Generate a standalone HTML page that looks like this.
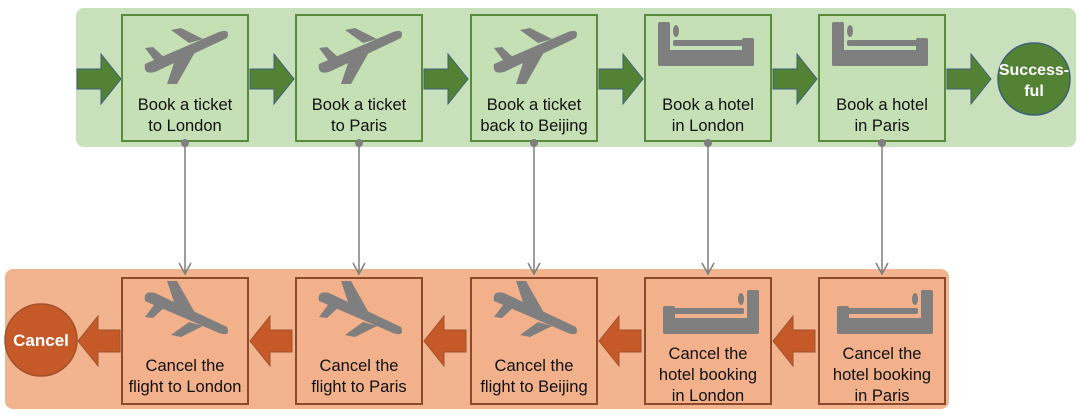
<!DOCTYPE html>
<html><head><meta charset="utf-8"><style>
body{margin:0;background:#fff;width:1080px;height:413px;overflow:hidden}
svg{display:block}
text{font-family:"Liberation Sans",sans-serif}
</style></head><body>
<svg id="s" width="1080" height="413" xmlns="http://www.w3.org/2000/svg">
<defs>
<g id="plane"><path d="M-40,14 L34,-18 Q46,-22 42,-12 L-30,22 Q-42,25 -40,14Z" fill="#7f7f7f"/><path d="M-8,4 L14,-5 L-8,34 L-18,34Z" fill="#7f7f7f"/><path d="M4,-7 L-14,-20 L-4,-22 L18,-11Z" fill="#7f7f7f"/><path d="M-28,14 L-40,-2 L-32,-3 L-18,10Z" fill="#7f7f7f"/></g>
<g id="bed"><rect x="-51" y="-22" width="12" height="44" rx="2" fill="#7f7f7f"/><rect x="-51" y="6" width="96" height="16" rx="2" fill="#7f7f7f"/><rect x="-36" y="-4" width="72" height="6" rx="2" fill="#7f7f7f"/><rect x="33" y="-6" width="12" height="28" rx="2" fill="#7f7f7f"/><ellipse cx="-33" cy="-13" rx="3" ry="6" fill="#7f7f7f"/></g>
</defs>
<rect x="76" y="8" width="1000" height="139" rx="8" fill="#c8e0bb"/>
<rect x="5" y="269" width="944" height="140" rx="8" fill="#f2b38f"/>
<circle cx="1034" cy="79" r="36" fill="#548235" stroke="#3f6079" stroke-width="1.5"/>
<text x="1034" y="75" text-anchor="middle" font-size="16" font-weight="bold" fill="#fff">Success-</text>
<text x="1034" y="96" text-anchor="middle" font-size="16" font-weight="bold" fill="#fff">ful</text>
<circle cx="41" cy="340" r="36" fill="#c55a28" stroke="#a0522d" stroke-width="1.5"/>
<text x="41" y="346" text-anchor="middle" font-size="17" font-weight="bold" fill="#fff">Cancel</text>
<g id="g"></g>
</svg>
<script>
const centers=[185,359,534,708,882];
const topLabels=[["Book a ticket","to London"],["Book a ticket","to Paris"],["Book a ticket","back to Beijing"],["Book a hotel","in London"],["Book a hotel","in Paris"]];
const botLabels=[["Cancel the","flight to London"],["Cancel the","flight to Paris"],["Cancel the","flight to Beijing"],["Cancel the","hotel booking","in London"],["Cancel the","hotel booking","in Paris"]];
const icons=["plane","plane","plane","bed","bed"];
const NS="http://www.w3.org/2000/svg",g=document.getElementById('g');
function mk(t,a,p){const e=document.createElementNS(NS,t);for(const k in a)e.setAttribute(k,a[k]);(p||g).appendChild(e);return e;}
function txt(x,y,s){const e=mk('text',{x:x,y:y,'text-anchor':'middle','font-size':16.5,fill:'#111'});e.textContent=s;return e;}
const gx=[77,250,424,599,773,947];
gx.forEach((x,i)=>{const a=mk('path',{d:`M${x},69 h24 v-15 l20,25 l-20,25 v-15 h-24Z`,fill:'#548235',stroke:'#3f6079','stroke-width':1});

});
const ox=[78,250,424,599,773];
ox.forEach((x,i)=>{const a=mk('path',{d:`M${x+42},330 h-22 v-14 l-20,25 l20,25 v-14 h22Z`,fill:'#c55a28',stroke:'#a0522d','stroke-width':1});

});
centers.forEach((c,i)=>{
 const b=mk('rect',{x:c-63,y:15,width:126,height:126,fill:'#c5e0b4',stroke:'#5b8a3c','stroke-width':2});
 
 
 const b2=mk('rect',{x:c-63,y:278,width:126,height:126,fill:'#f2b08b',stroke:'#8b4a2b','stroke-width':2});
 
 
 if(icons[i]=="plane"){mk('use',{href:'#plane',transform:`translate(${c},50)`});mk('use',{href:'#plane',transform:`translate(${c},315) scale(1,-1)`});}
 else{mk('use',{href:'#bed',transform:`translate(${c+1},44)`});mk('use',{href:'#bed',transform:`translate(${c},312) scale(-1,1)`});}
 topLabels[i].forEach((s,j)=>txt(c,110+j*21,s));
 const bl=botLabels[i],y0=bl.length==2?371:359;
 bl.forEach((s,j)=>txt(c,y0+j*21,s));
 mk('line',{x1:c,y1:143,x2:c,y2:272,stroke:'#7f7f7f','stroke-width':1.5});
 mk('circle',{cx:c,cy:143,r:4,fill:'#7f7f7f'});
 mk('path',{d:`M${c-6},263 L${c},274 L${c+6},263`,fill:'none',stroke:'#7f7f7f','stroke-width':1.5});
});
</script>
</body></html>
